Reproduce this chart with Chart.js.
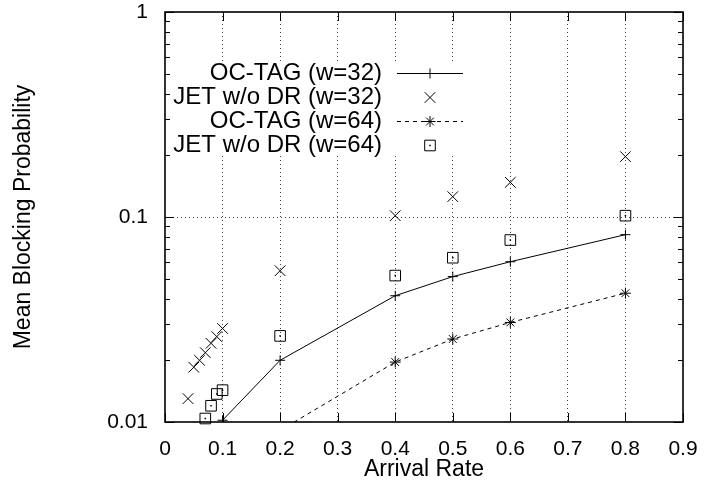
<!DOCTYPE html>
<html>
<head>
<meta charset="utf-8">
<script src="https://cdn.jsdelivr.net/npm/chart.js@4.4.1/dist/chart.umd.min.js"></script>
<style>
  html, body { margin: 0; padding: 0; background: #fff; }
  #wrap { width: 704px; height: 495px; }
</style>
</head>
<body>
<div id="wrap"><canvas id="chart" width="704" height="495"></canvas></div>
<script>
// --- Data ---
const xTicks = [0, 0.1, 0.2, 0.3, 0.4, 0.5, 0.6, 0.7, 0.8, 0.9];
const yTicks = [0.01, 0.1, 1];

const seriesLabels = ['OC-TAG (w=32)', 'JET w/o DR (w=32)', 'OC-TAG (w=64)', 'JET w/o DR (w=64)'];

const rateOc32 = [0.1, 0.2, 0.4, 0.5, 0.6, 0.8];
const blockOc32 = [0.0102, 0.0200, 0.0413, 0.0512, 0.0605, 0.0820];

const rateJet32 = [0.04, 0.05, 0.06, 0.07, 0.08, 0.09, 0.1, 0.2, 0.4, 0.5, 0.6, 0.8];
const blockJet32 = [0.0130, 0.0185, 0.0200, 0.0218, 0.0242, 0.0261, 0.0286, 0.0547, 0.1015, 0.1257, 0.1476, 0.197];

const rateOc64 = [0.2, 0.4, 0.5, 0.6, 0.8];
const blockOc64 = [0.0091, 0.0196, 0.0254, 0.0306, 0.0425];

const rateJet64 = [0.07, 0.08, 0.09, 0.1, 0.2, 0.4, 0.5, 0.6, 0.8];
const blockJet64 = [0.0104, 0.0120, 0.0137, 0.0143, 0.0263, 0.0518, 0.0633, 0.0772, 0.1015];

const FONT = "'Liberation Sans', Arial, Helvetica, sans-serif";

function toPoints(xs, ys) {
  return xs.map((x, i) => ({ x: x, y: ys[i] }));
}

// --- Frame, inward ticks and the key box (gnuplot look) ---
const keyBox = { left: 170, top: 61, right: 470, bottom: 156 };
const keyRows = { textRight: 382, sampleLeft: 397, sampleRight: 463, firstY: 73, step: 24 };

const gnuplotFrame = {
  id: 'gnuplotFrame',
  beforeDatasetsDraw(chart) {
    const { ctx, chartArea: a, scales } = chart;
    ctx.save();
    // key box hides the grid behind it
    ctx.fillStyle = '#fff';
    ctx.fillRect(keyBox.left, keyBox.top, keyBox.right - keyBox.left, keyBox.bottom - keyBox.top);

    ctx.strokeStyle = '#000';
    ctx.lineWidth = 1;
    ctx.beginPath();
    xTicks.forEach(v => {
      const px = Math.round(scales.x.getPixelForValue(v)) + 0.5;
      ctx.moveTo(px, a.bottom); ctx.lineTo(px, a.bottom - 9);
      ctx.moveTo(px, a.top); ctx.lineTo(px, a.top + 9);
    });
    for (let d = 0; d < yTicks.length; d++) {
      const py = Math.round(scales.y.getPixelForValue(yTicks[d])) + 0.5;
      ctx.moveTo(a.left, py); ctx.lineTo(a.left + 9, py);
      ctx.moveTo(a.right, py); ctx.lineTo(a.right - 9, py);
      if (d < yTicks.length - 1) {
        for (let m = 2; m <= 9; m++) {
          const pm = Math.round(scales.y.getPixelForValue(yTicks[d] * m)) + 0.5;
          ctx.moveTo(a.left, pm); ctx.lineTo(a.left + 5, pm);
          ctx.moveTo(a.right, pm); ctx.lineTo(a.right - 5, pm);
        }
      }
    }
    ctx.stroke();

    ctx.lineWidth = 1.6;
    ctx.strokeRect(a.left, a.top, a.right - a.left, a.bottom - a.top);
    ctx.restore();
  },
  afterDatasetsDraw(chart) {
    const { ctx } = chart;
    ctx.save();
    // dot in the middle of the open squares
    chart.data.datasets.forEach((ds, i) => {
      if (ds.pointStyle !== 'rect') return;
      chart.getDatasetMeta(i).data.forEach(pt => {
        ctx.fillStyle = '#000';
        ctx.fillRect(pt.x - 0.75, pt.y - 0.75, 1.5, 1.5);
      });
    });

    // key
    ctx.font = '24px ' + FONT;
    ctx.textAlign = 'right';
    ctx.textBaseline = 'middle';
    chart.data.datasets.forEach((ds, i) => {
      const y = keyRows.firstY + i * keyRows.step;
      ctx.fillStyle = '#000';
      ctx.fillText(ds.label, keyRows.textRight, y);
      ctx.strokeStyle = '#000';
      ctx.lineWidth = 1;
      if (ds.showLine) {
        ctx.save();
        ctx.setLineDash(ds.borderDash || []);
        ctx.beginPath();
        ctx.moveTo(keyRows.sampleLeft, y + 0.5);
        ctx.lineTo(keyRows.sampleRight, y + 0.5);
        ctx.stroke();
        ctx.restore();
      }
      const cx = (keyRows.sampleLeft + keyRows.sampleRight) / 2;
      ctx.fillStyle = 'rgba(0,0,0,0)';
      Chart.helpers.drawPoint(ctx, {
        pointStyle: ds.pointStyle, radius: ds.pointRadius, rotation: 0, borderWidth: 1
      }, cx, y + 0.5);
      if (ds.pointStyle === 'rect') {
        ctx.fillStyle = '#000';
        ctx.fillRect(cx - 0.75, y - 0.25, 1.5, 1.5);
      }
    });
    ctx.restore();
  }
};

const common = {
  borderColor: '#000',
  borderWidth: 1,
  pointBorderColor: '#000',
  pointBackgroundColor: 'rgba(0,0,0,0)',
  pointBorderWidth: 1,
  pointHoverRadius: 0
};

const chart = new Chart(document.getElementById('chart'), {
  type: 'scatter',
  data: {
    datasets: [
      Object.assign({}, common, {
        label: seriesLabels[0], data: toPoints(rateOc32, blockOc32),
        showLine: true, pointStyle: 'cross', pointRadius: 5
      }),
      Object.assign({}, common, {
        label: seriesLabels[1], data: toPoints(rateJet32, blockJet32),
        showLine: false, pointStyle: 'crossRot', pointRadius: 7.5, clip: false
      }),
      Object.assign({}, common, {
        label: seriesLabels[2], data: toPoints(rateOc64, blockOc64),
        showLine: true, borderDash: [4, 4], pointStyle: 'star', pointRadius: 5.5
      }),
      Object.assign({}, common, {
        label: seriesLabels[3], data: toPoints(rateJet64, blockJet64),
        showLine: false, pointStyle: 'rect', pointRadius: 7.5, clip: false
      })
    ]
  },
  options: {
    responsive: false,
    animation: false,
    devicePixelRatio: 1,
    layout: { padding: { top: 12, right: 21, bottom: 0, left: 0 } },
    plugins: { legend: { display: false }, tooltip: { enabled: false } },
    scales: {
      x: {
        type: 'linear',
        position: 'bottom',
        min: 0,
        max: 0.9,
        afterBuildTicks: s => { s.ticks = xTicks.map(v => ({ value: v })); },
        afterFit: s => { s.height = 73; },
        grid: {
          drawTicks: true,
          tickLength: 15,
          tickColor: 'rgba(0,0,0,0)',
          lineWidth: 1,
          color: c => (c.index === 0 || c.index === xTicks.length - 1) ? 'rgba(0,0,0,0)' : '#444'
        },
        border: { display: false, dash: [1, 3] },
        ticks: {
          autoSkip: false, maxRotation: 0, padding: 0, color: '#000',
          font: { family: FONT, size: 21 },
          callback: v => String(v)
        },
        title: {
          display: true, text: 'Arrival Rate', color: '#000',
          font: { family: FONT, size: 23 }, padding: { top: 0, bottom: 12 }
        }
      },
      y: {
        type: 'logarithmic',
        position: 'left',
        min: 0.01,
        max: 1,
        afterBuildTicks: s => { s.ticks = yTicks.map(v => ({ value: v })); },
        afterFit: s => { s.width = 165; },
        grid: {
          drawTicks: true,
          tickLength: 17,
          tickColor: 'rgba(0,0,0,0)',
          lineWidth: 1,
          color: c => (c.tick && c.tick.value === 0.1) ? '#444' : 'rgba(0,0,0,0)'
        },
        border: { display: false, dash: [1, 3] },
        ticks: {
          padding: 0, color: '#000',
          font: { family: FONT, size: 21, lineHeight: 1 },
          callback: v => String(v)
        },
        title: {
          display: true, text: 'Mean Blocking Probability', color: '#000',
          font: { family: FONT, size: 23 }, padding: { top: 10, bottom: 0 }
        }
      }
    }
  },
  plugins: [gnuplotFrame]
});
</script>
</body>
</html>
